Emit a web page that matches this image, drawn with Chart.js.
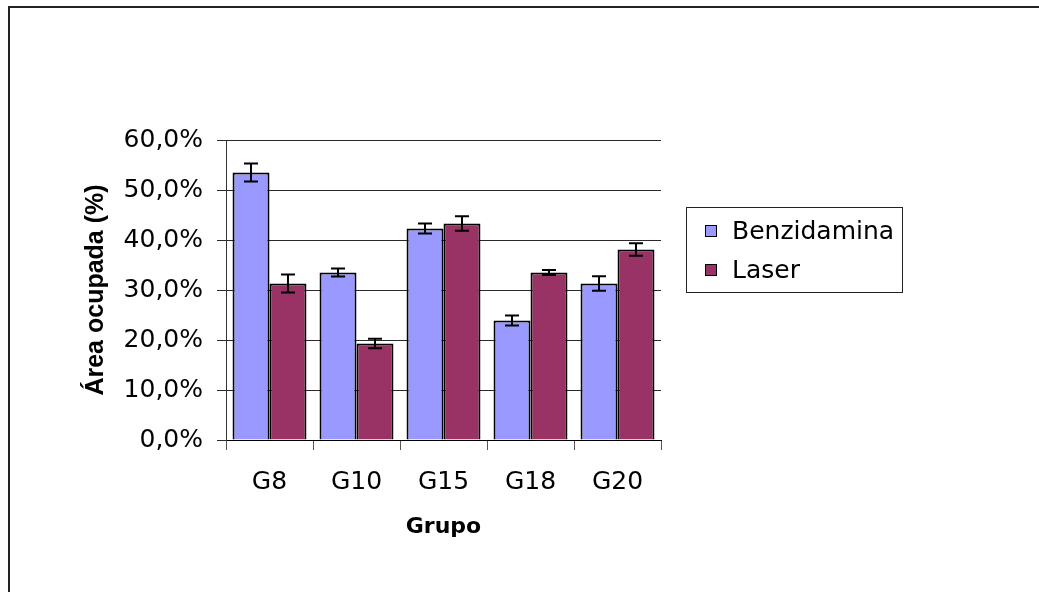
<!DOCTYPE html>
<html>
<head>
<meta charset="utf-8">
<script src="https://cdn.jsdelivr.net/npm/chart.js"></script>
<style>
  body { margin: 0; background: #fff; }
  canvas { display: block; }
</style>
</head>
<body>
<canvas id="myChart1" width="1039" height="592"></canvas>
<script>
// data (percent)
const grupos = ['G8', 'G10', 'G15', 'G18', 'G20'];
const benzidamina = [53.5, 33.5, 42.3, 23.9, 31.3];
const benzidaminaErr = [1.8, 0.8, 1.0, 1.0, 1.45];
const laser = [31.3, 19.3, 43.3, 33.5, 38.1];
const laserErr = [1.8, 0.95, 1.45, 0.5, 1.25];
const yMin = 0, yMax = 60, yStep = 10;

const errLists = [benzidaminaErr, laserErr];

// outer frame, like the one round the excel chart
const framePlugin = {
  id: 'frame',
  beforeDraw(chart) {
    const ctx = chart.ctx;
    ctx.save();
    ctx.fillStyle = '#fff';
    ctx.fillRect(0, 0, chart.width, chart.height);
    ctx.strokeStyle = '#222';
    ctx.lineWidth = 2;
    ctx.strokeRect(9, 7, chart.width + 20, chart.height + 20);
    ctx.restore();
  }
};

// error bars drawn with the y scale
const errorBarPlugin = {
  id: 'errorBars',
  afterDatasetsDraw(chart) {
    const ctx = chart.ctx;
    const yScale = chart.scales.y;
    ctx.save();
    ctx.strokeStyle = '#000';
    ctx.lineWidth = 2;
    chart.data.datasets.forEach((ds, i) => {
      const meta = chart.getDatasetMeta(i);
      meta.data.forEach((bar, j) => {
        const v = ds.data[j];
        const e = errLists[i][j];
        const yTop = yScale.getPixelForValue(v + e);
        const yBot = yScale.getPixelForValue(v - e);
        const x = bar.x;
        ctx.beginPath();
        ctx.moveTo(x, yTop); ctx.lineTo(x, yBot);
        ctx.moveTo(x - 7, yTop); ctx.lineTo(x + 7, yTop);
        ctx.moveTo(x - 7, yBot); ctx.lineTo(x + 7, yBot);
        ctx.stroke();
      });
    });
    ctx.restore();
  }
};

// boxed legend on the right
const legendBoxPlugin = {
  id: 'legendBox',
  afterDraw(chart) {
    const ctx = chart.ctx;
    ctx.save();
    ctx.strokeStyle = '#222';
    ctx.lineWidth = 1;
    ctx.strokeRect(686.5, 207.5, 216, 85);
    ctx.font = '25px "DejaVu Sans"';
    ctx.textBaseline = 'middle';
    ctx.textAlign = 'left';
    chart.data.datasets.forEach((ds, i) => {
      const cy = 231 + i * 39;
      ctx.fillStyle = ds.backgroundColor;
      ctx.fillRect(705, cy - 6, 12, 12);
      ctx.strokeStyle = '#000';
      ctx.strokeRect(705.5, cy - 5.5, 11, 11);
      ctx.fillStyle = '#000';
      ctx.fillText(ds.label, 732, cy + 1);
    });
    ctx.restore();
  }
};

const data1 = {
  labels: grupos,
  datasets: [
    {
      label: 'Benzidamina',
      data: benzidamina,
      backgroundColor: '#9999FF',
      borderColor: '#000',
      borderWidth: 2
    },
    {
      label: 'Laser',
      data: laser,
      backgroundColor: '#993366',
      borderColor: '#000',
      borderWidth: 2
    }
  ]
};

const config1 = {
  type: 'bar',
  data: data1,
  options: {
    responsive: false,
    animation: false,
    events: [],
    layout: { padding: { left: 77, top: 140, right: 378, bottom: 48 } },
    datasets: { bar: { categoryPercentage: 0.85, barPercentage: 1.0 } },
    plugins: {
      legend: { display: false },
      tooltip: { enabled: false }
    },
    scales: {
      x: {
        afterFit(scale) { scale.height = 104; },
        grid: { offset: true, drawOnChartArea: false, drawTicks: true, tickLength: 10, color: '#555' },
        border: { color: '#000', width: 1 },
        ticks: { color: '#000', padding: 17, font: { family: 'DejaVu Sans', size: 25 } },
        title: {
          display: true,
          text: 'Grupo',
          color: '#000',
          padding: 4,
          font: { family: 'DejaVu Sans', size: 22, weight: 'bold' }
        }
      },
      y: {
        min: yMin,
        max: yMax,
        afterFit(scale) { scale.width = 149; },
        grid: { color: '#2a2a2a', lineWidth: 1, drawTicks: true, tickLength: 9 },
        border: { color: '#333', width: 1 },
        ticks: {
          stepSize: yStep,
          color: '#000',
          padding: 14,
          font: { family: 'DejaVu Sans', size: 25 },
          callback: v => v.toFixed(1).replace('.', ',') + '%'
        },
        title: {
          display: true,
          text: 'Área ocupada (%)',
          color: '#000',
          padding: 4,
          font: { family: 'Liberation Sans', size: 25, weight: 'bold' }
        }
      }
    }
  },
  plugins: [framePlugin, errorBarPlugin, legendBoxPlugin]
};

var ctx1 = document.getElementById('myChart1').getContext('2d');
const chart1 = new Chart(ctx1, config1);
</script>
</body>
</html>
